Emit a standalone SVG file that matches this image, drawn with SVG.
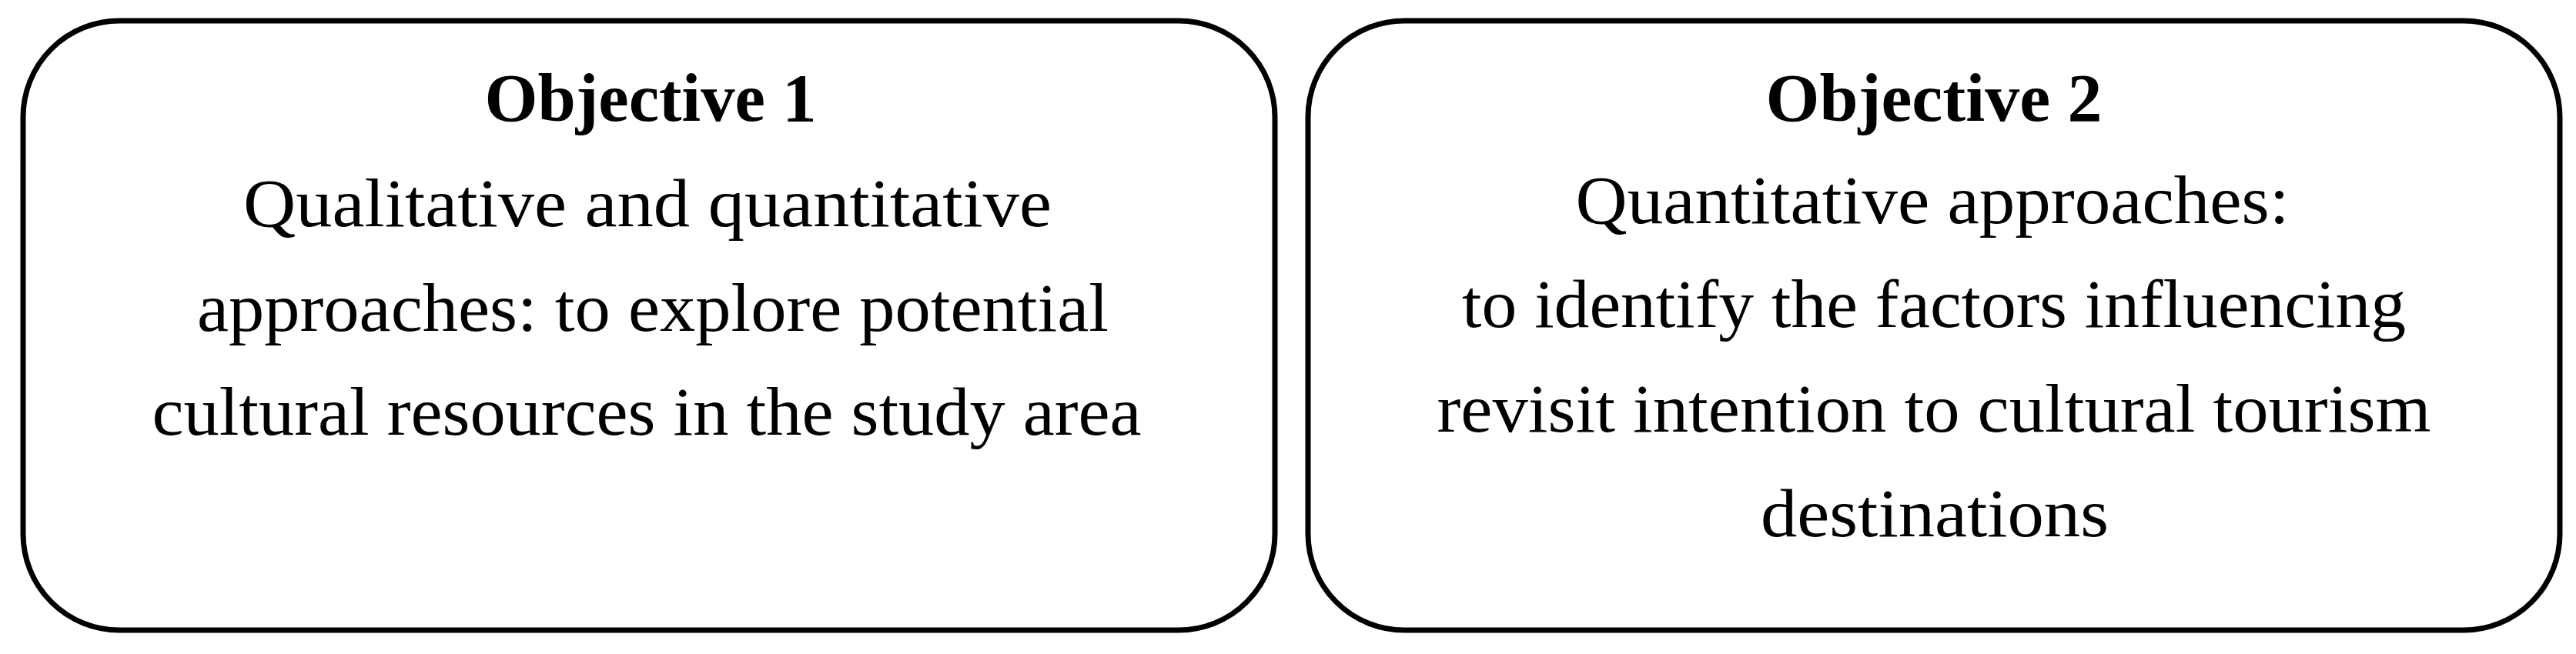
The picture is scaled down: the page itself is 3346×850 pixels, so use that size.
<svg xmlns="http://www.w3.org/2000/svg" width="3346" height="850" viewBox="0 0 3346 850">
<style>
.box{fill:#ffffff;stroke:#000000;stroke-width:7}
.t{font-family:"Liberation Serif","Times New Roman",serif;font-size:88px;fill:#000000;text-anchor:middle}
.b{font-weight:bold}
</style>
<rect width="3346" height="850" fill="#ffffff"/>
<g id="objective1">
<rect class="box" x="30" y="27" width="1626" height="792" rx="125" ry="125"/>
<text class="t b" x="845" y="157" textLength="431" lengthAdjust="spacingAndGlyphs">Objective 1</text>
<text class="t" x="841" y="294" textLength="1050" lengthAdjust="spacingAndGlyphs">Qualitative and quantitative</text>
<text class="t" x="848" y="430" textLength="1184" lengthAdjust="spacingAndGlyphs">approaches: to explore potential</text>
<text class="t" x="840" y="565" textLength="1285" lengthAdjust="spacingAndGlyphs">cultural resources in the study area</text>
</g>
<g id="objective2">
<rect class="box" x="1699" y="27" width="1626" height="792" rx="125" ry="125"/>
<text class="t b" x="2512" y="157" textLength="437" lengthAdjust="spacingAndGlyphs">Objective 2</text>
<text class="t" x="2510" y="290" textLength="927" lengthAdjust="spacingAndGlyphs">Quantitative approaches:</text>
<text class="t" x="2512" y="425" textLength="1226" lengthAdjust="spacingAndGlyphs">to identify the factors influencing</text>
<text class="t" x="2512" y="561" textLength="1291" lengthAdjust="spacingAndGlyphs">revisit intention to cultural tourism</text>
<text class="t" x="2513" y="697" textLength="452" lengthAdjust="spacingAndGlyphs">destinations</text>
</g>
<g id="connectors"/>
</svg>
